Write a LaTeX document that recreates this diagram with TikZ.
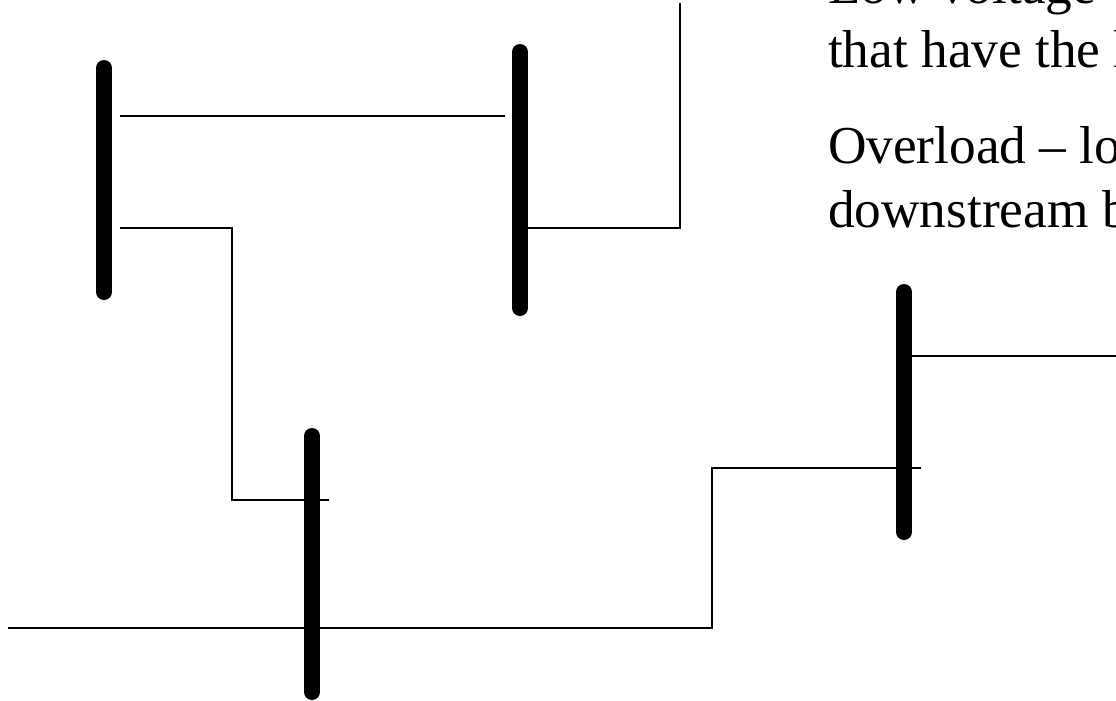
\documentclass[tikz,border=0pt]{standalone}
\usepackage{fontspec}
\setmainfont{Liberation Serif}
\tikzset{
  busbar/.style={line width=12pt,line cap=round,black},
  feeder/.style={line width=1.5pt,black,line join=miter},
  caption/.style={anchor=base west,inner sep=0pt,outer sep=0pt,font=\fontsize{40}{48}\selectfont}
}
\begin{document}
\begin{tikzpicture}[x=0.75pt,y=-0.75pt]
\useasboundingbox (0,0) rectangle (1116,700);
\clip (0,0) rectangle (1116,700);
\coordinate (b1t) at (104,68);  \coordinate (b1b) at (104,292);
\coordinate (b2t) at (520,52);  \coordinate (b2b) at (520,308);
\coordinate (b3t) at (312,436); \coordinate (b3b) at (312,692);
\coordinate (b4t) at (904,292); \coordinate (b4b) at (904,532);
\coordinate (a1) at (120,116);  \coordinate (a2) at (505,116);
\coordinate (c1) at (120,228);  \coordinate (c2) at (232,228); \coordinate (c3) at (232,500); \coordinate (c4) at (329,500);
\coordinate (d1) at (520,228);  \coordinate (d2) at (680,228); \coordinate (d3) at (680,3);
\coordinate (e1) at (8,628);    \coordinate (e2) at (712,628); \coordinate (e3) at (712,468); \coordinate (e4) at (921,468);
\coordinate (f1) at (904,356);  \coordinate (f2) at (1116,356);
\draw[feeder] (a1) -- (a2);
\draw[feeder] (c1) -- (c2) -- (c3) -- (c4);
\draw[feeder] (d1) -- (d2) -- (d3);
\draw[feeder] (e1) -- (e2) -- (e3) -- (e4);
\draw[feeder] (f1) -- (f2);
\draw[busbar] (b1t) -- (b1b);
\draw[busbar] (b2t) -- (b2b);
\draw[busbar] (b3t) -- (b3b);
\draw[busbar] (b4t) -- (b4b);
\node[caption] (t1) at (828,3) {Low voltage};
\node[caption] (t2) at (828,67) {that have the l};
\node[caption] (t3) at (828,163) {Overload – lo};
\node[caption] (t4) at (828,227) {downstream b};
\end{tikzpicture}
\end{document}
